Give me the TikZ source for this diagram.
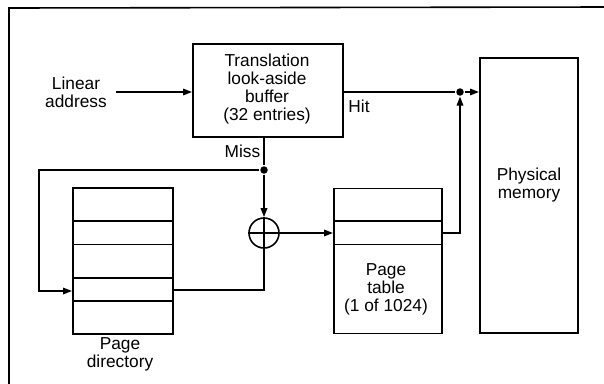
\documentclass[tikz,border=0pt]{standalone}
\usepackage{fontspec}
\setmainfont{Liberation Sans}
\usetikzlibrary{arrows.meta}
\begin{document}
\begin{tikzpicture}[x=1pt,y=-1pt,
  line width=1.6pt,
  txt/.style={font=\fontsize{17.3}{18}\selectfont, align=center, inner sep=0pt},
  box/.style={draw, anchor=north west, inner sep=0pt},
  arr/.style={-{Triangle[length=9pt,width=6.5pt]}},
  dot/.style={circle, fill, inner sep=0pt, minimum size=7.5pt}]
\useasboundingbox (0,0) rectangle (604,383);
% frame
\draw (9,390) -- (9,8) -- (610,7);
% boxes
\node[box, minimum width=150pt, minimum height=93pt] (tlb) at (192,43) {};
\node[txt] (tlbt) at (267,89.5) {Translation\\look-aside\\buffer\\(32 entries)};
\node[box, minimum width=98pt, minimum height=275pt] (pm) at (479,57) {};
\node[txt] (pmt) at (529,185.5) {Physical\\memory};
\node[box, minimum width=100pt, minimum height=146pt] (pd) at (72,187) {};
\node[txt] (pdt) at (120,354) {Page\\directory};
\node[box, minimum width=108pt, minimum height=145pt] (pt) at (333,187.5) {};
\node[txt] (ptt) at (386,289) {Page\\table\\(1 of 1024)};
\foreach \yy in {221,244.3,277.7,301} \draw (pd.west |- 0,\yy) -- (pd.east |- 0,\yy);
\foreach \yy in {221,244.3} \draw (pt.west |- 0,\yy) -- (pt.east |- 0,\yy);
% adder
\node[draw, circle, minimum size=30pt, inner sep=0pt] (add) at (264,233) {};
\draw[line width=1.2pt] (add.north) -- (add.south) (add.west) -- (add.east);
% labels
\node[txt] (la) at (76,92.5) {Linear\\address};
\node[txt] (hit) at (359,106) {Hit};
\node[txt, anchor=east] (miss) at (261,151) {Miss};
% coordinates
\coordinate (lastart) at (116,92);
\node[dot] (hd) at (460,92) {};
\node[dot] (md) at (264,170) {};
\coordinate (lc) at (39,170);
% connectors
\draw[arr] (lastart) -- (lastart -| tlb.west);
\draw (tlb.east |- hd) -- (hd);
\draw[arr] (hd) -- (hd -| pm.west);
\draw (tlb.south -| md) -- (md);
\draw[arr] (md) -- (add.north);
\draw[arr] (md) -- (lc) -- (lc |- 0,291) -- (pd.west |- 0,291);
\draw (pd.east |- 0,290) -- (add.south |- 0,290) -- (add.south);
\draw[arr] (add.east) -- (add.east -| pt.west);
\draw[arr] (pt.east |- add.east) -- (hd |- add.east) -- (hd.south);
\end{tikzpicture}
\end{document}
